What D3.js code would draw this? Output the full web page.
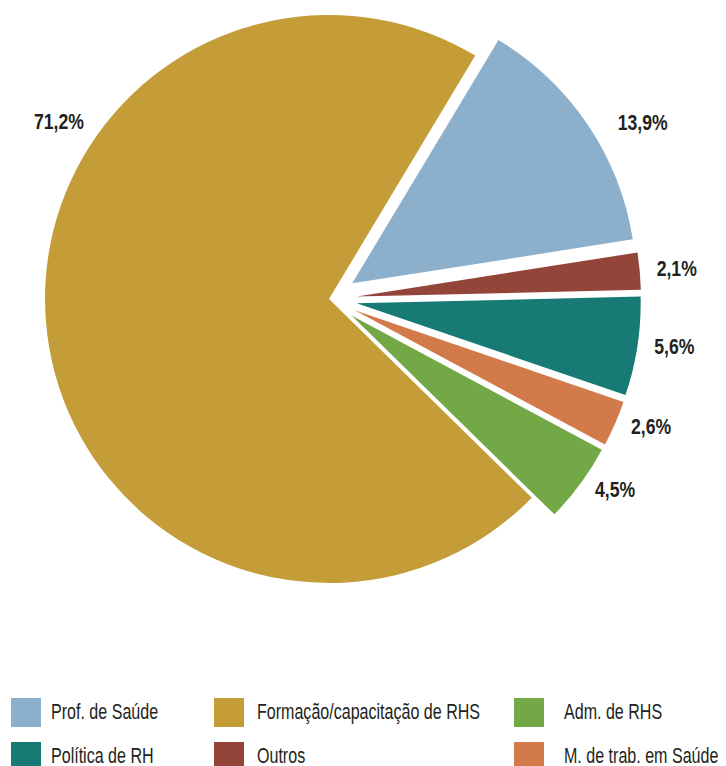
<!DOCTYPE html>
<html>
<head>
<meta charset="utf-8">
<script src="https://cdn.jsdelivr.net/npm/d3@7"></script>
<style>
  body { margin: 0; background: #fff; }
  text { font-family: "Liberation Sans", Arial, sans-serif; fill: #231f20; }
</style>
</head>
<body>
<div id="chart"></div>
<script>
// Data
const categories = ["Prof. de Saúde", "Outros", "Política de RH", "M. de trab. em Saúde", "Adm. de RHS", "Formação/capacitação de RHS"];
const values = [13.9, 2.1, 5.6, 2.6, 4.5, 71.2];
const labels = ["13,9%", "2,1%", "5,6%", "2,6%", "4,5%", "71,2%"];
const colors = ["#8cafcb", "#93453a", "#177a74", "#d27a49", "#72a846", "#c49d38"];

// legend order (3 columns x 2 rows)
const legendOrder = ["Prof. de Saúde", "Formação/capacitação de RHS", "Adm. de RHS", "Política de RH", "Outros", "M. de trab. em Saúde"];

const width = 726, height = 766;
const cx = 329, cy = 299, radius = 284, explode = 28;
const narrow = 0.8; // horizontal squeeze to mimic a condensed face

const svg = d3.select("#chart")
  .append("svg")
    .attr("width", width)
    .attr("height", height);

const color = d3.scaleOrdinal().domain(categories).range(colors);

const data = categories.map((c, i) => ({ name: c, value: values[i], label: labels[i] }));

const startA = 31 * Math.PI / 180;
const pie = d3.pie().value(d => d.value).sort(null).startAngle(startA).endAngle(startA + 2 * Math.PI);
const arcs = pie(data);
const arc = d3.arc().innerRadius(0).outerRadius(radius);

const big = d3.max(values);
const mid = d => (d.startAngle + d.endAngle) / 2;

const g = svg.append("g").attr("transform", `translate(${cx},${cy})`);

g.selectAll("path")
  .data(arcs)
  .enter()
  .append("path")
    .attr("d", arc)
    .attr("fill", d => color(d.data.name))
    .attr("transform", d => {
      if (d.data.value === big) return null;
      return `translate(${explode * Math.sin(mid(d))},${-explode * Math.cos(mid(d))})`;
    });

// value labels
const bigLabelAngle = -57 * Math.PI / 180;
const labelR = radius + explode + 12;
function labelPos(d) {
  if (d.data.value === big) return [322 * Math.sin(bigLabelAngle), -322 * Math.cos(bigLabelAngle)];
  const m = mid(d);
  const pad = d.data.value > 10 ? 20 : 5;
  return [labelR * Math.sin(m) + pad, -labelR * Math.cos(m) + (d.data.value > 10 ? 6 : 0)];
}

g.selectAll(".lbl")
  .data(arcs)
  .enter()
  .append("text")
    .attr("class", "lbl")
    .attr("font-weight", "bold")
    .attr("font-size", 22)
    .attr("dominant-baseline", "middle")
    .attr("text-anchor", d => d.data.value === big ? "middle" : "start")
    .attr("transform", d => `translate(${labelPos(d)}) scale(${narrow},1)`)
    .text(d => d.data.label);

// legend
const colX = [11, 214, 514];
const rowY = [698, 742];
const legend = svg.selectAll(".leg")
  .data(legendOrder)
  .enter()
  .append("g")
    .attr("class", "leg")
    .attr("transform", (d, i) => `translate(${colX[i % 3]},${rowY[Math.floor(i / 3)]})`);

legend.append("rect")
  .attr("width", 30)
  .attr("height", 29)
  .attr("fill", d => color(d));

legend.append("text")
  .attr("transform", (d, i) => `translate(${[40, 43, 50][i % 3]},15) scale(0.73,1)`)
  .attr("dominant-baseline", "middle")
  .attr("font-size", 22)
  .text(d => d);
</script>
</body>
</html>
